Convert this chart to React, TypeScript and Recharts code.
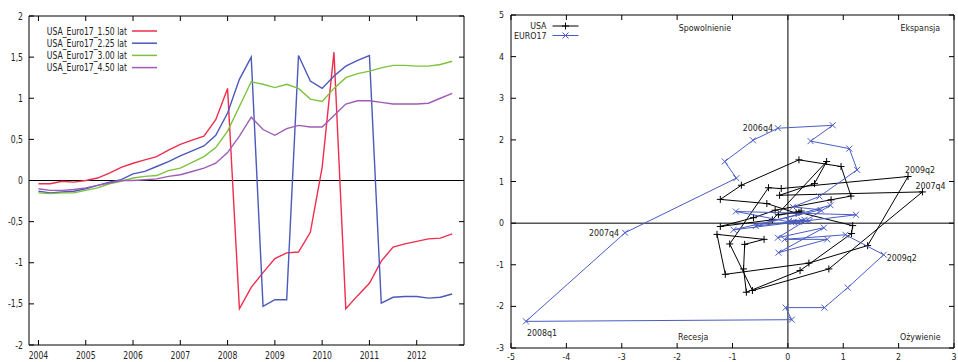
import React from 'react';
import { LineChart, Line, XAxis, YAxis, ReferenceLine, ReferenceArea, ReferenceDot, Legend, ScatterChart, Scatter } from 'recharts';

// quarterly time axis, 2004q1 .. 2012q4
const QUARTERS = [
  2004, 2004.25, 2004.5, 2004.75, 2005, 2005.25, 2005.5, 2005.75, 2006, 2006.25, 2006.5, 2006.75,
  2007, 2007.25, 2007.5, 2007.75, 2008, 2008.25, 2008.5, 2008.75, 2009, 2009.25, 2009.5, 2009.75,
  2010, 2010.25, 2010.5, 2010.75, 2011, 2011.25, 2011.5, 2011.75, 2012, 2012.25, 2012.5, 2012.75,
];
const QUARTER_NAMES = [
  '2004q1', '2004q2', '2004q3', '2004q4', '2005q1', '2005q2', '2005q3', '2005q4', '2006q1', '2006q2', '2006q3', '2006q4',
  '2007q1', '2007q2', '2007q3', '2007q4', '2008q1', '2008q2', '2008q3', '2008q4', '2009q1', '2009q2', '2009q3', '2009q4',
  '2010q1', '2010q2', '2010q3', '2010q4', '2011q1', '2011q2', '2011q3', '2011q4', '2012q1', '2012q2', '2012q3', '2012q4',
];

const LAT_150 = [-0.04, -0.04, -0.01, -0.02, 0.0, 0.03, 0.09, 0.16, 0.21, 0.25, 0.29, 0.37, 0.44, 0.49, 0.54, 0.74, 1.12, -1.56, -1.3, -1.12, -0.95, -0.88, -0.87, -0.63, 0.16, 1.56, -1.56, -1.4, -1.25, -0.98, -0.81, -0.77, -0.74, -0.71, -0.7, -0.65];
const LAT_225 = [-0.13, -0.15, -0.14, -0.13, -0.1, -0.06, -0.02, 0.01, 0.08, 0.11, 0.17, 0.23, 0.3, 0.36, 0.42, 0.55, 0.82, 1.23, 1.5, -1.53, -1.45, -1.45, 1.52, 1.21, 1.12, 1.27, 1.39, 1.46, 1.52, -1.49, -1.42, -1.41, -1.41, -1.43, -1.42, -1.38];
const LAT_300 = [-0.15, -0.16, -0.15, -0.15, -0.12, -0.09, -0.04, -0.01, 0.03, 0.05, 0.06, 0.12, 0.15, 0.22, 0.29, 0.4, 0.6, 0.9, 1.2, 1.17, 1.13, 1.17, 1.12, 0.99, 0.96, 1.12, 1.25, 1.3, 1.33, 1.37, 1.4, 1.4, 1.39, 1.39, 1.41, 1.45];
const LAT_450 = [-0.1, -0.12, -0.12, -0.11, -0.09, -0.06, -0.03, 0.0, 0.0, 0.01, 0.02, 0.05, 0.07, 0.11, 0.15, 0.21, 0.34, 0.54, 0.77, 0.62, 0.55, 0.63, 0.67, 0.65, 0.65, 0.79, 0.93, 0.97, 0.97, 0.95, 0.93, 0.93, 0.93, 0.94, 1.0, 1.06];

const YEAR_TICKS = [2004, 2005, 2006, 2007, 2008, 2009, 2010, 2011, 2012];
const LEFT_Y_TICKS = [-2, -1.5, -1, -0.5, 0, 0.5, 1, 1.5, 2];

// right panel: phase plane
const USA_X = [0.15, -0.38, -1.22, -0.84, 0.2, 0.96, 1.14, 0.78, -0.23, -0.62, -1.22, -0.28, 0.7, 0.48, -0.15, 2.43, 0.74, -0.64, -1.05, -0.35, -0.12, 2.17, 1.44, 0.38, -1.13, -1.28, -0.43, -0.78, -0.8, -0.75, 0.22, 1.15, 1.17, 0.2, -0.17, 0.24];
const USA_Y = [0.24, 0.47, 0.57, 0.91, 1.52, 1.36, 0.65, 0.56, 0.31, 0.13, -0.08, 0.08, 1.48, 0.95, 0.67, 0.75, -1.1, -1.62, -0.5, 0.85, 0.83, 1.12, -0.54, -0.96, -1.23, -0.27, -0.39, -0.51, -1.1, -1.66, -1.14, -0.25, -0.06, 0.26, 0.2, 0.29];
const EURO_X = [0.06, -0.94, 1.23, -0.98, 0.59, 0.09, 0.57, 1.25, 1.11, 0.41, 0.81, -0.18, -0.63, -1.14, -0.93, -2.94, -4.73, 0.07, -0.04, 0.66, 1.08, 1.73, 1.04, -0.06, 0.71, -0.17, 0.65, -0.18, 0.77, -0.58, 0.25, 0.39, 0.1, 0.3, 0.02, 0.2];
const EURO_Y = [0.02, 0.28, 0.2, -0.16, 0.32, 0.39, 0.64, 1.28, 1.79, 1.97, 2.35, 2.28, 1.99, 1.48, 1.08, -0.23, -2.36, -2.32, -2.03, -2.03, -1.55, -0.76, -0.28, -0.39, -0.39, -0.71, -0.11, -0.35, 0.43, -0.07, 0.06, 0.05, 0.03, 0.08, 0.05, 0.02];
const USA_TAGS = ['2007q4', '2009q2'];
const EURO_TAGS = ['2006q4', '2007q4', '2008q1', '2009q2'];
const PHASE_SERIES = ['USA', 'EURO17'];
const PHASE_X_TICKS = [-5, -4, -3, -2, -1, 0, 1, 2, 3];
const PHASE_Y_TICKS = [-3, -2, -1, 0, 1, 2, 3, 4, 5];
const QUADRANT_NAMES = ['Spowolnienie', 'Ekspansja', 'Recesja', 'Ożywienie'];
const QUADRANT_X = [-1.5, 2.39, -1.71, 2.39];
const QUADRANT_Y = [4.68, 4.68, -2.74, -2.74];

const RED = '#ef2d4c';
const BLUE = '#4a59bb';
const GREEN = '#7dc23e';
const PURPLE = '#a05cb5';
const EURO_BLUE = '#4a5cc4';
const FONT = 'DejaVu Sans';

const lineData = QUARTERS.map((t, i) => ({ t, a: LAT_150[i], b: LAT_225[i], c: LAT_300[i], d: LAT_450[i] }));
const usaData = USA_X.map((x, i) => ({ x, y: USA_Y[i], q: QUARTER_NAMES[i] }));
const euroData = EURO_X.map((x, i) => ({ x, y: EURO_Y[i], q: QUARTER_NAMES[i] }));

// text is horizontally squeezed in the reference
const Txt = ({ x, y, anchor = 'start', size = 10, sx = 0.77, children }: any) => (
  <text transform={`translate(${x} ${y}) scale(${sx} 1)`} textAnchor={anchor} fontSize={size} fontFamily={FONT} fill="#222">
    {children}
  </text>
);

// left panel frame (pixels)
const LP = { top: 16, right: 464, bottom: 345, left: 29 };
// right panel frame (pixels, inside its own svg)
const RP = { top: 15, right: 474, bottom: 348, left: 31 };

const fmtComma = (v: number) => String(v).replace('.', ',');

const LeftXTick = (p: any) => (
  <g>
    <line x1={p.x} x2={p.x} y1={p.y} y2={p.y - 5} stroke="#000" />
    <line x1={p.x} x2={p.x} y1={LP.top} y2={LP.top + 5} stroke="#000" />
    <Txt x={p.x} y={p.y + 14} anchor="middle">{p.payload.value}</Txt>
  </g>
);
const LeftYTick = (p: any) => (
  <g>
    <line x1={p.x} x2={p.x + 5} y1={p.y} y2={p.y} stroke="#000" />
    <line x1={LP.right} x2={LP.right - 5} y1={p.y} y2={p.y} stroke="#000" />
    <Txt x={p.x - 6} y={p.y + 3.5} anchor="end">{fmtComma(p.payload.value)}</Txt>
  </g>
);
const RightXTick = (p: any) => (
  <g>
    <line x1={p.x} x2={p.x} y1={p.y} y2={p.y - 5} stroke="#000" />
    <line x1={p.x} x2={p.x} y1={RP.top} y2={RP.top + 5} stroke="#000" />
    <Txt x={p.x} y={p.y + 12} anchor="middle" size={8.5} sx={0.93}>{p.payload.value}</Txt>
  </g>
);
const RightYTick = (p: any) => (
  <g>
    <line x1={p.x} x2={p.x + 5} y1={p.y} y2={p.y} stroke="#000" />
    <line x1={RP.right} x2={RP.right - 5} y1={p.y} y2={p.y} stroke="#000" />
    <Txt x={p.x - 7} y={p.y + 3} anchor="end" size={8.5} sx={0.93}>{p.payload.value}</Txt>
  </g>
);

const LeftLegend = (props: any) => (
  <svg width={170} height={80} style={{ display: 'block' }}>
    {(props.payload || []).map((e: any, i: number) => (
      <g key={e.value}>
        <Txt x={127} y={30.5 + i * 12.2} anchor="end">{e.value}</Txt>
        <line x1={132} x2={157} y1={27 + i * 12.2} y2={27 + i * 12.2} stroke={e.color} strokeWidth={1.5} />
      </g>
    ))}
  </svg>
);

const Plus = (p: any) => (
  <path d={`M${p.cx - 3.5},${p.cy}h7M${p.cx},${p.cy - 3.5}v7`} stroke="#000" strokeWidth={1} fill="none" />
);
const Cross = (p: any) => (
  <path d={`M${p.cx - 3},${p.cy - 3}l6,6M${p.cx - 3},${p.cy + 3}l6,-6`} stroke={EURO_BLUE} strokeWidth={1} fill="none" />
);

const RightLegend = (props: any) => {
  const items = [...(props.payload || [])].sort(
    (a: any, b: any) => PHASE_SERIES.indexOf(a.value) - PHASE_SERIES.indexOf(b.value),
  );
  return (
    <svg width={110} height={45} style={{ display: 'block' }}>
      {items.map((e: any, i: number) => {
        const y = 24 + i * 9.5;
        return (
          <g key={e.value}>
            <Txt x={66.5} y={y + 3} anchor="end" size={8.5} sx={0.93}>{e.value}</Txt>
            <line x1={72.5} x2={98.5} y1={y} y2={y} stroke={e.value === 'USA' ? '#000' : EURO_BLUE} />
            {e.value === 'USA' ? <Plus cx={85.5} cy={y} /> : <Cross cx={85.5} cy={y} />}
          </g>
        );
      })}
    </svg>
  );
};

// label placements for tagged quarters (offset from the point, text anchor)
const USA_LABEL_POS: Record<string, [number, number, string]> = {
  '2007q4': [-7, -3, 'start'],
  '2009q2': [-3, -4, 'start'],
};
const EURO_LABEL_POS: Record<string, [number, number, string]> = {
  '2006q4': [-5, 3, 'end'],
  '2007q4': [-6, 3, 'end'],
  '2008q1': [1, 15, 'start'],
  '2009q2': [3, 6, 'start'],
};

const tagShape = (label: string, pos: [number, number, string]) => (p: any) => (
  <Txt x={p.cx + pos[0]} y={p.cy + pos[1]} anchor={pos[2]} size={8.5} sx={0.93}>{label}</Txt>
);

export default function App() {
  return (
    <div style={{ position: 'absolute', left: 0, top: 0, width: 958, height: 362, background: '#fff' }}>
      <div style={{ position: 'absolute', left: 0, top: 0 }}>
        <LineChart width={480} height={362} data={lineData} margin={{ top: 16, right: 16, bottom: 0, left: 0 }}>
          <XAxis
            dataKey="t"
            type="number"
            domain={[2003.8, 2013]}
            allowDataOverflow
            ticks={YEAR_TICKS}
            interval={0}
            height={17}
            tickSize={0}
            tickMargin={0}
            axisLine={false}
            tickLine={false}
            tick={<LeftXTick />}
          />
          <YAxis
            type="number"
            domain={[-2, 2]}
            allowDataOverflow
            ticks={LEFT_Y_TICKS}
            interval={0}
            width={29}
            tickSize={0}
            tickMargin={0}
            axisLine={false}
            tickLine={false}
            tick={<LeftYTick />}
          />
          <ReferenceLine y={0} stroke="#000" strokeWidth={1} />
          <Line dataKey="a" name="USA_Euro17_1.50 lat" stroke={RED} strokeWidth={1.4} dot={false} isAnimationActive={false} />
          <Line dataKey="b" name="USA_Euro17_2.25 lat" stroke={BLUE} strokeWidth={1.4} dot={false} isAnimationActive={false} />
          <Line dataKey="c" name="USA_Euro17_3.00 lat" stroke={GREEN} strokeWidth={1.4} dot={false} isAnimationActive={false} />
          <Line dataKey="d" name="USA_Euro17_4.50 lat" stroke={PURPLE} strokeWidth={1.4} dot={false} isAnimationActive={false} />
          <ReferenceArea x1={2003.8} x2={2013} y1={-2} y2={2} fill="none" stroke="#000" strokeWidth={1} />
          <Legend
            layout="vertical"
            align="center"
            verticalAlign="middle"
            content={<LeftLegend />}
            wrapperStyle={{ left: 0, top: 4, width: 170, height: 80 }}
          />
        </LineChart>
      </div>
      <div style={{ position: 'absolute', left: 480, top: 0 }}>
        <ScatterChart width={478} height={362} margin={{ top: 15, right: 4, bottom: 0, left: 0 }}>
          <XAxis
            dataKey="x"
            type="number"
            domain={[-5, 3]}
            allowDataOverflow
            ticks={PHASE_X_TICKS}
            interval={0}
            height={14}
            tickSize={0}
            tickMargin={0}
            axisLine={false}
            tickLine={false}
            tick={<RightXTick />}
          />
          <YAxis
            dataKey="y"
            type="number"
            domain={[-3, 5]}
            allowDataOverflow
            ticks={PHASE_Y_TICKS}
            interval={0}
            width={31}
            tickSize={0}
            tickMargin={0}
            axisLine={false}
            tickLine={false}
            tick={<RightYTick />}
          />
          <ReferenceLine x={0} stroke="#555" strokeWidth={1.5} />
          <ReferenceLine y={0} stroke="#555" strokeWidth={1.5} />
          <Scatter
            name="USA"
            data={usaData}
            fill="#000"
            line={{ stroke: '#000', strokeWidth: 1 }}
            lineType="joint"
            shape={<Plus />}
            isAnimationActive={false}
          />
          <Scatter
            name="EURO17"
            data={euroData}
            fill={EURO_BLUE}
            line={{ stroke: EURO_BLUE, strokeWidth: 1 }}
            lineType="joint"
            shape={<Cross />}
            isAnimationActive={false}
          />
          {usaData
            .filter((d) => USA_TAGS.includes(d.q))
            .map((d) => (
              <ReferenceDot key={'u' + d.q} x={d.x} y={d.y} r={1} shape={tagShape(d.q, USA_LABEL_POS[d.q])} />
            ))}
          {euroData
            .filter((d) => EURO_TAGS.includes(d.q))
            .map((d) => (
              <ReferenceDot key={'e' + d.q} x={d.x} y={d.y} r={1} shape={tagShape(d.q, EURO_LABEL_POS[d.q])} />
            ))}
          {QUADRANT_NAMES.map((name, i) => (
            <ReferenceDot
              key={name}
              x={QUADRANT_X[i]}
              y={QUADRANT_Y[i]}
              r={1}
              shape={(p: any) => (
                <Txt x={p.cx} y={p.cy + 3} anchor="middle" size={8.5} sx={0.93}>{name}</Txt>
              )}
            />
          ))}
          <ReferenceArea x1={-5} x2={3} y1={-3} y2={5} fill="none" stroke="#000" strokeWidth={1} />
          <Legend
            layout="vertical"
            align="center"
            verticalAlign="middle"
            content={<RightLegend />}
            wrapperStyle={{ left: 0, top: 2, width: 110, height: 45 }}
          />
        </ScatterChart>
      </div>
    </div>
  );
}
